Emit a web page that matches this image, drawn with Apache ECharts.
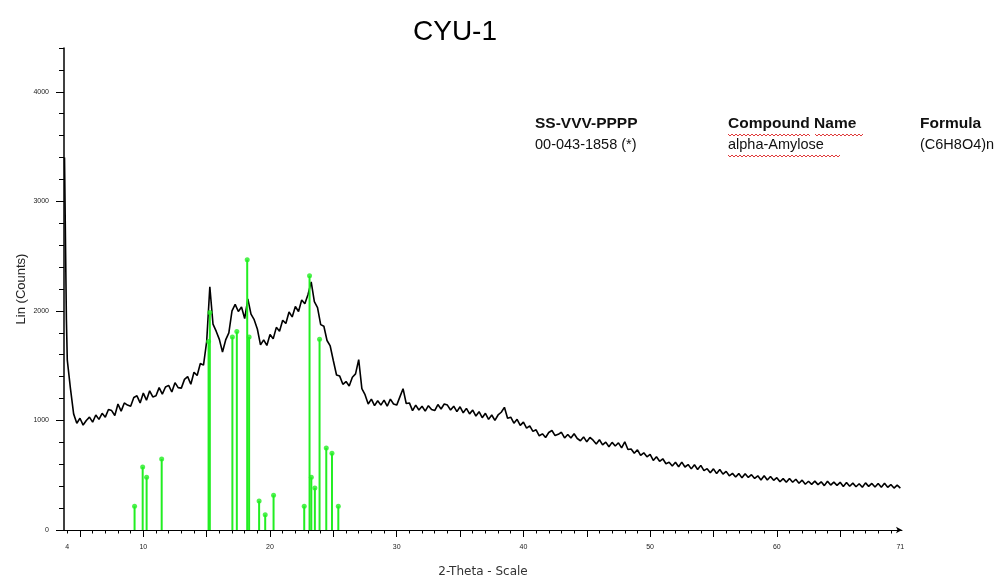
<!DOCTYPE html>
<html>
<head>
<meta charset="utf-8">
<script src="https://cdn.jsdelivr.net/npm/echarts@6/dist/echarts.min.js"></script>
<style>
  html, body { margin: 0; padding: 0; background: #fff; }
  #main { width: 1006px; height: 576px; }
</style>
</head>
<body>
<div id="main"></div>
<script>
// scan: first few points, then a regular 0.25 deg grid from 4.0
var headTheta = [3.78, 3.86, 3.93];
var headCounts = [3400, 2600, 1920];
var scanStart = 4.0;
var scanStep = 0.25;
var counts = [
  1550, 1290, 1060, 975,
  1020, 958, 1000, 1030,
  985, 1050, 1010, 1065,
  1030, 1100, 1090, 1045,
  1150, 1085, 1160, 1140,
  1130, 1210, 1225, 1160,
  1250, 1185, 1270, 1215,
  1225, 1300, 1240, 1305,
  1320, 1260, 1345, 1300,
  1295, 1375, 1400, 1330,
  1440, 1410, 1520, 1505,
  1720, 2220, 1880, 1815,
  1740, 1625, 1735, 1800,
  2000, 2060, 1995, 2035,
  1930, 2110, 1970, 1920,
  1835, 1690, 1735, 1685,
  1785, 1745, 1850, 1815,
  1915, 1885, 1990, 1945,
  2040, 1995, 2100, 2065,
  2150, 2265, 2085, 2030,
  1875, 1860, 1730, 1680,
  1545, 1415, 1405, 1330,
  1355, 1315, 1395, 1425,
  1555, 1290, 1235, 1150,
  1195, 1135, 1180, 1140,
  1185, 1130, 1195, 1150,
  1140, 1215, 1290, 1155,
  1160, 1090, 1140, 1095,
  1130, 1085, 1135, 1100,
  1090, 1145, 1105, 1150,
  1140, 1095, 1130, 1080,
  1125, 1070, 1110, 1060,
  1095, 1040, 1080, 1025,
  1065, 1010, 1050, 1000,
  1050, 1075, 1120, 1020,
  1030, 975, 1010, 955,
  985, 930, 950, 900,
  915, 860, 878, 844,
  890, 908, 862, 873,
  892, 840, 872, 840,
  878, 835, 815, 850,
  805, 845, 820, 786,
  824, 777, 802, 760,
  800, 767, 796, 750,
  805, 735, 740, 700,
  732, 682, 705, 668,
  690, 635, 668, 627,
  650, 605, 618, 585,
  618, 577, 620, 575,
  597, 558, 595, 552,
  590, 542, 560, 523,
  558, 515, 552, 510,
  535, 495, 517, 484,
  515, 476, 514, 480,
  505, 471, 495, 457,
  495, 457, 488, 454,
  477, 440, 469, 435,
  470, 436, 463, 427,
  455, 418, 445, 417,
  446, 414, 440, 405,
  445, 410, 437, 407,
  435, 398, 433, 399,
  428, 395, 422, 390,
  430, 398, 425, 392,
  425, 391, 426, 390,
  415, 383, 410, 383
];

// reference pattern 00-043-1858 alpha-Amylose (sticks)
var refTheta = [9.31, 9.95, 10.26, 11.45, 15.15, 15.25, 17.03, 17.38, 18.2, 18.35, 19.14, 19.62, 20.28, 22.7, 23.12, 23.26, 23.54, 23.91, 24.44, 24.89, 25.39];
var refCounts = [216, 575, 481, 648, 1720, 1985, 1762, 1811, 2466, 1762, 265, 140, 317, 216, 2320, 481, 384, 1741, 749, 700, 216];

var xLabelValues = [4, 10, 20, 30, 40, 50, 60, 69.75];
var xLabelText = ['4', '10', '20', '30', '40', '50', '60', '71'];
var yLabelValues = [0, 1000, 2000, 3000, 4000];

var xMin = 3.74, xMax = 69.88;
var yMin = 0, yMax = 4400;

var scan = [];
for (var i = 0; i < headTheta.length; i++) scan.push([headTheta[i], headCounts[i]]);
for (var j = 0; j < counts.length; j++) scan.push([scanStart + j * scanStep, counts[j]]);

var sticks = refTheta.map(function (t, k) { return [t, refCounts[k]]; });

// tick positions
var xMajorTicks = [], xMinorTicks = [], yMinorTicks = [];
for (var t = 5; t <= 65; t += 5) xMajorTicks.push(t);
for (var t2 = 4; t2 <= 69; t2++) xMinorTicks.push(t2);
for (var c = 0; c <= 4400; c += 200) yMinorTicks.push(c);

function squiggle(x0, x1, y) {
  var pts = [];
  for (var x = x0, up = true; x <= x1; x += 2, up = !up) pts.push([x, up ? y : y + 2]);
  return pts;
}

var green = '#22ee22';
var labelFont = { fontSize: 7, color: '#222', fontFamily: 'Liberation Sans' };

var myChart = echarts.init(document.getElementById('main'));
myChart.setOption({
  animation: false,
  title: {
    text: 'CYU-1',
    left: 450,
    top: 13,
    textAlign: 'center',
    textStyle: { fontFamily: 'Liberation Sans', fontWeight: 'normal', fontSize: 28, color: '#000' }
  },
  grid: { left: 64, right: 104, top: 48, bottom: 46, outerBoundsMode: 'none', containLabel: false },
  xAxis: [{
    type: 'value',
    min: xMin,
    max: xMax,
    name: '2-Theta - Scale',
    nameLocation: 'middle',
    nameGap: 36,
    nameMoveOverlap: false,
    nameTextStyle: { fontFamily: 'DejaVu Sans', fontSize: 12, color: '#333' },
    axisLine: { onZero: false, lineStyle: { color: '#000', width: 1 }, symbol: ['none', 'arrow'], symbolSize: [5, 6] },
    axisTick: { show: true, length: 7, customValues: xMajorTicks, lineStyle: { color: '#000' } },
    axisLabel: {
      customValues: xLabelValues,
      margin: 14,
      formatter: function (v) { var k = xLabelValues.indexOf(v); return k >= 0 ? xLabelText[k] : ''; },
      fontSize: labelFont.fontSize, color: labelFont.color, fontFamily: labelFont.fontFamily
    },
    splitLine: { show: false }
  }, {
    // minor ticks, one per degree
    type: 'value',
    min: xMin,
    max: xMax,
    position: 'bottom',
    axisLine: { show: false },
    axisTick: { show: true, length: 3.5, customValues: xMinorTicks, lineStyle: { color: '#000' } },
    axisLabel: { show: false },
    splitLine: { show: false }
  }],
  yAxis: [{
    type: 'value',
    min: yMin,
    max: yMax,
    name: 'Lin (Counts)',
    nameLocation: 'middle',
    nameGap: 36,
    nameMoveOverlap: false,
    nameTextStyle: { fontFamily: 'Liberation Sans', fontSize: 13, color: '#222' },
    axisLine: { show: true, onZero: false, lineStyle: { color: '#000', width: 1.5 } },
    axisTick: { show: true, length: 8, customValues: yLabelValues, lineStyle: { color: '#000' } },
    axisLabel: {
      customValues: yLabelValues,
      margin: 15,
      formatter: function (v) { return String(v); },
      fontSize: labelFont.fontSize, color: labelFont.color, fontFamily: labelFont.fontFamily
    },
    splitLine: { show: false }
  }, {
    type: 'value',
    min: yMin,
    max: yMax,
    position: 'left',
    axisLine: { show: false },
    axisTick: { show: true, length: 5, customValues: yMinorTicks, lineStyle: { color: '#000' } },
    axisLabel: { show: false },
    splitLine: { show: false }
  }],
  series: [{
    name: 'CYU-1',
    type: 'line',
    data: scan,
    showSymbol: false,
    lineStyle: { color: '#000', width: 1.6 },
    z: 2
  }, {
    name: '00-043-1858',
    type: 'bar',
    data: sticks,
    barWidth: 2,
    itemStyle: { color: green },
    z: 3
  }, {
    name: '00-043-1858 top',
    type: 'scatter',
    data: sticks,
    symbol: 'circle',
    symbolSize: 5,
    itemStyle: { color: green },
    z: 4
  }],
  graphic: [
    { type: 'text', x: 535, y: 124, style: { text: 'SS-VVV-PPPP', font: 'bold 15.5px "Liberation Sans"', fill: '#111', verticalAlign: 'middle' } },
    { type: 'text', x: 535, y: 145, style: { text: '00-043-1858 (*)', font: '14.5px "Liberation Sans"', fill: '#111', verticalAlign: 'middle' } },
    { type: 'text', x: 728, y: 124, style: { text: 'Compound Name', font: 'bold 15.5px "Liberation Sans"', fill: '#111', verticalAlign: 'middle' } },
    { type: 'text', x: 728, y: 145, style: { text: 'alpha-Amylose', font: '14.5px "Liberation Sans"', fill: '#111', verticalAlign: 'middle' } },
    { type: 'text', x: 920, y: 124, style: { text: 'Formula', font: 'bold 15.5px "Liberation Sans"', fill: '#111', verticalAlign: 'middle' } },
    { type: 'text', x: 920, y: 145, style: { text: '(C6H8O4)n', font: '14.5px "Liberation Sans"', fill: '#111', verticalAlign: 'middle' } },
    // spell-check squiggles
    { type: 'polyline', shape: { points: squiggle(728, 811, 134) }, style: { stroke: '#e03a3a', lineWidth: 1, fill: null } },
    { type: 'polyline', shape: { points: squiggle(815, 864, 134) }, style: { stroke: '#e03a3a', lineWidth: 1, fill: null } },
    { type: 'polyline', shape: { points: squiggle(728, 841, 155) }, style: { stroke: '#e03a3a', lineWidth: 1, fill: null } }
  ]
});
</script>
</body>
</html>
